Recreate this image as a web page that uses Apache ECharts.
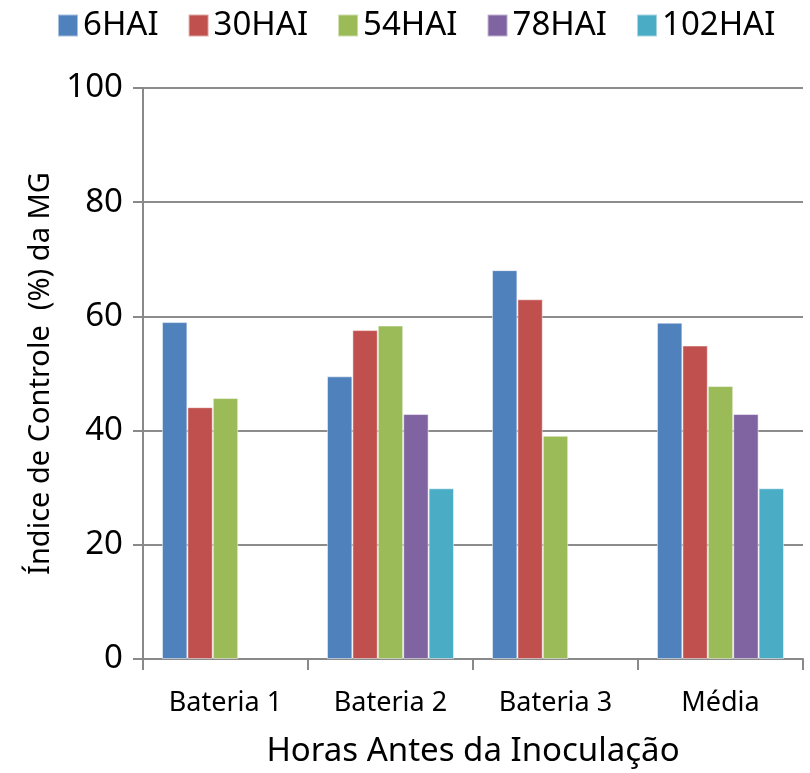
<!DOCTYPE html>
<html><head><meta charset="utf-8">
<script src="https://cdn.jsdelivr.net/npm/echarts@6/dist/echarts.min.js"></script>
<style>html,body{margin:0;padding:0;background:#fff}#c{width:810px;height:773px}</style>
</head><body><div id="c"></div>
<script>
const categories = ['Bateria 1', 'Bateria 2', 'Bateria 3', 'Média'];
const seriesNames = ['6HAI', '30HAI', '54HAI', '78HAI', '102HAI'];
const v6HAI = [59.0, 49.5, 68.1, 58.9];
const v30HAI = [44.1, 57.6, 63.0, 54.9];
const v54HAI = [45.7, 58.4, 39.1, 47.8];
const v78HAI = [null, 42.9, null, 42.9];
const v102HAI = [null, 29.9, null, 29.9];
const yTicks = [0, 20, 40, 60, 80, 100];
const colors = ['#4F81BD', '#C0504D', '#9BBB59', '#8064A2', '#4BACC6'];
const values = [v6HAI, v30HAI, v54HAI, v78HAI, v102HAI];
const font = 'Noto Sans, sans-serif';

const chart = echarts.init(document.getElementById('c'));
chart.setOption({
  animation: false,
  color: colors,
  textStyle: {fontFamily: font},
  legend: {
    top: 4, left: 52,
    itemWidth: 20, itemHeight: 22, itemGap: 29,
    icon: 'rect',
    textStyle: {fontSize: 33, color: '#000', fontFamily: font},
    data: seriesNames
  },
  grid: {left: 143, right: 7, top: 88, bottom: 112, containLabel: false},
  xAxis: {
    type: 'category', data: categories,
    axisLine: {lineStyle: {color: '#898989', width: 2}},
    axisTick: {show: true, length: 11, lineStyle: {color: '#898989', width: 2}},
    axisLabel: {fontSize: 27, color: '#000', margin: 31, fontFamily: font},
    name: 'Horas Antes da Inoculação', nameLocation: 'middle', nameGap: 76,
    nameTextStyle: {fontSize: 33, color: '#000', fontFamily: font}
  },
  yAxis: {
    type: 'value', min: yTicks[0], max: yTicks[yTicks.length - 1], interval: 20,
    axisLine: {show: true, lineStyle: {color: '#898989', width: 2}},
    axisTick: {show: true, length: 10, lineStyle: {color: '#898989', width: 2}},
    splitLine: {lineStyle: {color: '#8c8c8c', width: 2}},
    axisLabel: {fontSize: 33, color: '#000', margin: 20, fontFamily: font},
    name: 'Índice de Controle  (%) da MG', nameLocation: 'middle', nameGap: 88,
    nameTextStyle: {fontSize: 29, color: '#000', fontFamily: font}
  },
  series: seriesNames.map((n, i) => ({
    name: n, type: 'bar', data: values[i],
    barGap: '0%', barCategoryGap: '23%',
    itemStyle: {borderColor: 'rgba(255,255,255,0.5)', borderWidth: 1}
  }))
});
</script></body></html>
